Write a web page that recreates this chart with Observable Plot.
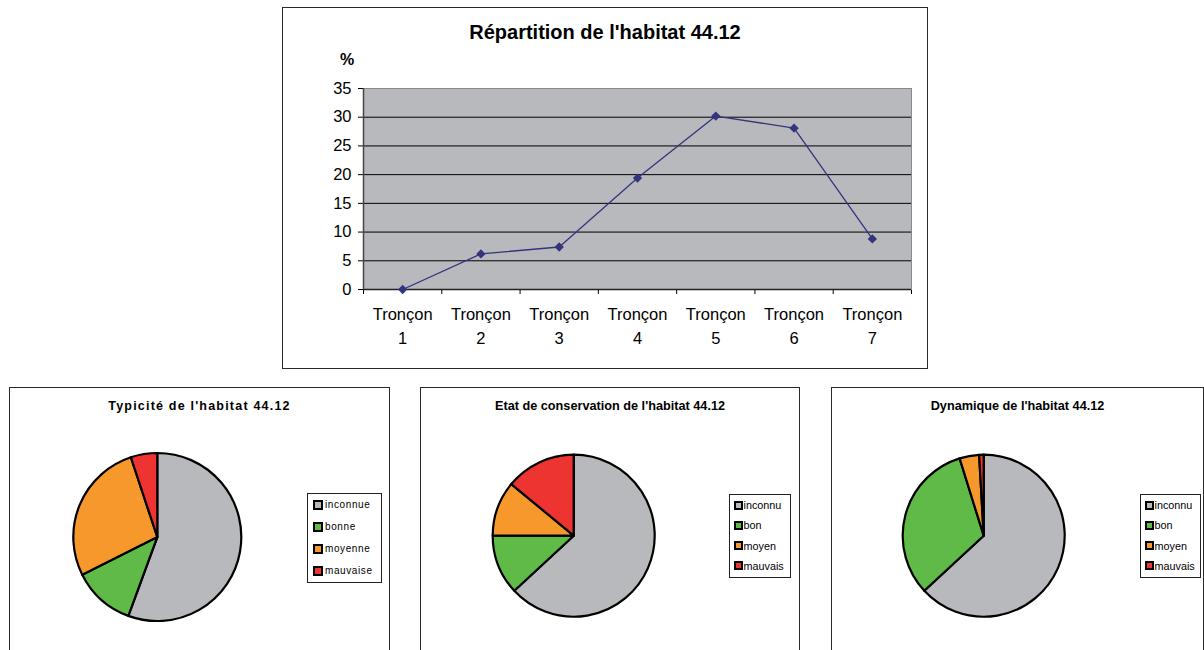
<!DOCTYPE html>
<html>
<head>
<meta charset="utf-8">
<script src="https://cdn.jsdelivr.net/npm/d3@7"></script>
<script src="https://cdn.jsdelivr.net/npm/@observablehq/plot@0.6"></script>
<style>
  body { margin: 0; background: #fff; font-family: "Liberation Sans", Arial, sans-serif; color: #000; }
  #page { position: relative; width: 1204px; height: 650px; overflow: hidden; background: #fff; }
  .box { position: absolute; box-sizing: border-box; border: 1.5px solid #2a2a2a; }
  .txt { position: absolute; white-space: nowrap; color: #000; }
  .legend { position: absolute; box-sizing: border-box; border: 1px solid #222; background: #fff; }
  .sw { position: absolute; box-sizing: border-box; border: 2px solid #000; }
</style>
</head>
<body>
<div id="page"></div>
<script>
// ---- Répartition de l'habitat 44.12 (share per river segment, %) ----
const segmentPrefix = "Tronçon";
const segmentNumbers = [1, 2, 3, 4, 5, 6, 7];
const sharePercent = [0, 6.2, 7.4, 19.4, 30.2, 28.1, 8.8];
const yTicks = [0, 5, 10, 15, 20, 25, 30, 35];

// ---- Pie charts ----
const typiciteLabels = ["inconnue", "bonne", "moyenne", "mauvaise"];
const typiciteValues = [55.6, 12.0, 27.3, 5.1];
const etatLabels = ["inconnu", "bon", "moyen", "mauvais"];
const etatValues = [63.1, 11.9, 11.0, 14.0];
const dynamiqueLabels = ["inconnu", "bon", "moyen", "mauvais"];
const dynamiqueValues = [63.1, 32.1, 3.9, 0.9];
const sliceColors = ["#b8b9bc", "#5fba48", "#f7982d", "#ee3430"];

const FONT = '"Liberation Sans", Arial, sans-serif';
const page = document.getElementById("page");

function box(left, top, width, height) {
  const d = document.createElement("div");
  d.className = "box";
  Object.assign(d.style, {left: left + "px", top: top + "px", width: width + "px", height: height + "px"});
  page.appendChild(d);
  return d;
}

function label(text, opts) {
  const d = document.createElement("div");
  d.className = "txt";
  d.textContent = text;
  const h = opts.lineHeight || 20;
  Object.assign(d.style, {
    top: (opts.cy - h / 2) + "px",
    height: h + "px",
    lineHeight: h + "px",
    fontSize: opts.size + "px",
    fontWeight: opts.bold ? "bold" : "normal",
    letterSpacing: (opts.spacing || 0) + "px"
  });
  if (opts.center != null) {
    d.style.left = (opts.center - 300) + "px";
    d.style.width = "600px";
    d.style.textAlign = "center";
  } else {
    d.style.left = opts.left + "px";
  }
  (opts.parent || page).appendChild(d);
  return d;
}

function place(node, left, top) {
  node.style.position = "absolute";
  node.style.left = left + "px";
  node.style.top = top + "px";
  page.appendChild(node);
}

// ---------- Line chart ----------
box(282, 7, 646, 362);
label("Répartition de l'habitat 44.12", {center: 605, cy: 32, size: 20, bold: true, lineHeight: 24});
label("%", {center: 347, cy: 60, size: 16, bold: true});

const lineData = segmentNumbers.map((n, i) => ({n, name: segmentPrefix, v: sharePercent[i]}));
// tick marks sit between categories, Excel style
const boundaries = d3.range(0.5, segmentNumbers.length + 1, 1);

const linePlot = Plot.plot({
  width: 645,
  height: 320,
  marginLeft: 81,
  marginRight: 16,
  marginTop: 48,
  marginBottom: 71,
  style: {fontFamily: FONT, fontSize: "16.5px", color: "#000", background: "transparent", overflow: "visible"},
  x: {type: "linear", domain: [0.5, segmentNumbers.length + 0.5], ticks: boundaries, tickFormat: () => "", tickSize: 5, label: null},
  y: {domain: [0, 35], ticks: yTicks, tickSize: 5, tickPadding: 7, label: null},
  marks: [
    Plot.frame({fill: "#b8b9bd", stroke: "#8a8a8a"}),
    Plot.ruleY(yTicks.filter(t => t > 0 && t < 35), {stroke: "#000", strokeWidth: 1}),
    Plot.ruleY([0], {stroke: "#222", strokeWidth: 1.5}),
    Plot.ruleX([0.5], {stroke: "#444", strokeWidth: 1.5}),
    Plot.line(lineData, {x: "n", y: "v", stroke: "#34347e", strokeWidth: 1.3}),
    Plot.dot(lineData, {x: "n", y: "v", symbol: "diamond2", r: 4.2, fill: "#34347e", stroke: "none"}),
    Plot.text(lineData, {x: "n", text: "name", frameAnchor: "bottom", dy: 30}),
    Plot.text(lineData, {x: "n", text: d => String(d.n), frameAnchor: "bottom", dy: 54})
  ]
});
place(linePlot, 282, 40);

// ---------- Pie charts ----------
function pieCard(cfg) {
  const {left, top, width, title, titleSize, titleSpacing, labels, values, cx, cy, radius, legend} = cfg;
  box(left, top, width, 300);
  label(title, {center: left + width / 2, cy: 406, size: titleSize, bold: true, spacing: titleSpacing || 0});

  const color = Plot.scale({color: {type: "ordinal", domain: labels, range: sliceColors}});
  const slices = d3.pie().sort(null).value(d => d.value)(labels.map((label, i) => ({label, value: values[i]})));
  const arc = d3.arc().innerRadius(0).outerRadius(radius);

  const svgW = 280, svgH = 250;
  const pie = Plot.plot({
    width: svgW,
    height: svgH,
    margin: 0,
    style: {background: "transparent", overflow: "visible"},
    marks: [
      () => {
        const g = d3.create("svg:g").attr("transform", `translate(${cx - left},${cy - top})`);
        g.selectAll("path")
          .data(slices)
          .join("path")
          .attr("d", arc)
          .attr("fill", d => color.apply(d.data.label))
          .attr("stroke", "#000")
          .attr("stroke-width", 2.2)
          .attr("stroke-linejoin", "round");
        return g.node();
      }
    ]
  });
  place(pie, left, top);

  // legend
  const lg = document.createElement("div");
  lg.className = "legend";
  Object.assign(lg.style, {left: legend.x + "px", top: legend.y + "px", width: legend.w + "px", height: legend.h + "px"});
  page.appendChild(lg);
  labels.forEach((name, i) => {
    const yc = legend.first + i * legend.step - legend.y - 1;
    const sw = document.createElement("div");
    sw.className = "sw";
    Object.assign(sw.style, {
      left: (legend.swX - legend.x - 1) + "px",
      top: (yc - legend.sw / 2) + "px",
      width: legend.sw + "px",
      height: legend.sw + "px",
      background: color.apply(name)
    });
    lg.appendChild(sw);
    label(name, {parent: lg, left: legend.textX - legend.x - 1, cy: yc, size: legend.size, spacing: legend.spacing || 0, lineHeight: 14});
  });
}

pieCard({
  left: 9, top: 387, width: 381,
  title: "Typicité de l'habitat 44.12", titleSize: 12.5, titleSpacing: 1.2,
  labels: typiciteLabels, values: typiciteValues,
  cx: 157.3, cy: 537, radius: 84,
  legend: {x: 307, y: 493, w: 75, h: 90, first: 505, step: 22, swX: 313, sw: 10, textX: 325, size: 10, spacing: 0.6}
});
pieCard({
  left: 420, top: 387, width: 380,
  title: "Etat de conservation de l'habitat 44.12", titleSize: 12.7,
  labels: etatLabels, values: etatValues,
  cx: 573.7, cy: 535.7, radius: 81,
  legend: {x: 729, y: 494, w: 62, h: 84, first: 505, step: 20.3, swX: 734, sw: 9, textX: 743.5, size: 10.8}
});
pieCard({
  left: 831, top: 387, width: 373,
  title: "Dynamique de l'habitat 44.12", titleSize: 12.7,
  labels: dynamiqueLabels, values: dynamiqueValues,
  cx: 983.7, cy: 535.7, radius: 81,
  legend: {x: 1140, y: 494, w: 61, h: 84, first: 505, step: 20.3, swX: 1145, sw: 9, textX: 1154.5, size: 10.8}
});
</script>
</body>
</html>
